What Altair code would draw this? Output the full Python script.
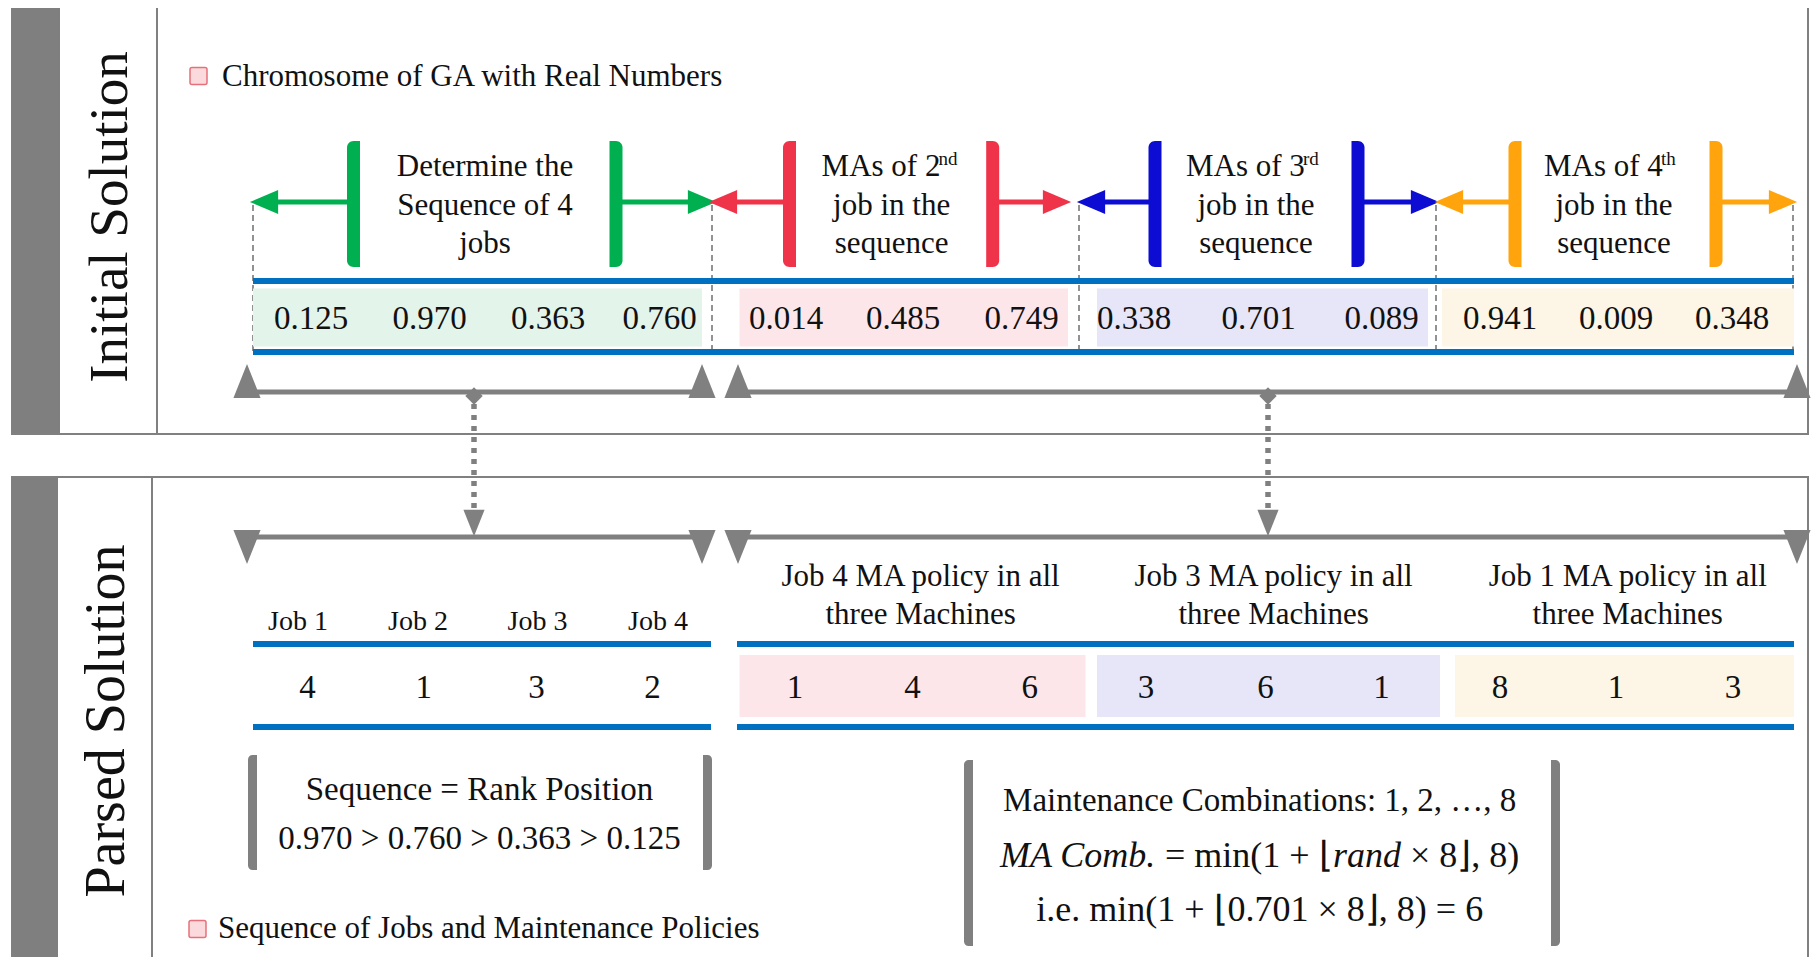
import altair as alt
import pandas as pd

# ---------------- data ----------------
panel_titles = ["Initial Solution", "Parsed Solution"]
legend_texts = ["Chromosome of GA with Real Numbers",
                "Sequence of Jobs and Maintenance Policies"]
chromosome = [0.125, 0.970, 0.363, 0.760,
              0.014, 0.485, 0.749,
              0.338, 0.701, 0.089,
              0.941, 0.009, 0.348]
segment_first_lines = ["Determine the", "MAs of 2", "MAs of 3", "MAs of 4"]
segment_sup = ["", "nd", "rd", "th"]
segment_other_lines = [["Sequence of 4", "jobs"],
                       ["job in the", "sequence"],
                       ["job in the", "sequence"],
                       ["job in the", "sequence"]]
job_labels = ["Job 1", "Job 2", "Job 3", "Job 4"]
job_sequence = [4, 1, 3, 2]
ma_policies = [1, 4, 6, 3, 6, 1, 8, 1, 3]
ma_headers = [["Job 4 MA policy in all", "three Machines"],
              ["Job 3 MA policy in all", "three Machines"],
              ["Job 1 MA policy in all", "three Machines"]]
rank_lines = ["Sequence = Rank Position", "0.970 > 0.760 > 0.363 > 0.125"]
maint_line1 = "Maintenance Combinations: 1, 2, \u2026, 8"
maint_line2 = [("MA Comb.", True), ("= min(1 + \u230a", False), ("rand", True), ("\u00d7 8\u230b, 8)", False)]
maint_line3 = "i.e. min(1 + \u230a0.701 \u00d7 8\u230b, 8) = 6"

# ---------------- styles ----------------
seg_colors = ["#00b050", "#ef3349", "#0c0cd2", "#ffa40c"]
cell_fills = ["#e3f4ea", "#fde6e9", "#e6e6f8", "#fdf6e6"]
GRAY = "#808080"
DARK = "#7f7f7f"
BLUE = "#0070c0"
INK = "#111111"
FONT = "Liberation Serif"
TRI_UP = "M0,-1L0.8,1L-0.8,1Z"
TRI_DOWN = "M0,1L0.8,-1L-0.8,-1Z"
TRI_LEFT = "M-1,0L1,-0.85L1,0.85Z"
TRI_RIGHT = "M1,0L-1,-0.85L-1,0.85Z"

# ---------------- layout (pixel space) ----------------
W, H = 1804, 949
XS = alt.Scale(domain=[8, 8 + W], nice=False, zero=False)
YS = alt.Scale(domain=[8, 8 + H], nice=False, zero=False, reverse=True)

bar_L = [353.5, 789.5, 1155, 1515]
bar_R = [616, 992.7, 1358, 1716]
tip_L = [255, 714, 1082, 1440]
tip_R = [711, 1066, 1434, 1792]
seg_text_cx = [485, 891.6, 1256, 1614]
seg_text_y = [167, 205.5, 244]
dash_x = [253, 712, 1079, 1436, 1793]
top_cells = [(253, 702), (739.5, 1068), (1097, 1428), (1442, 1794)]
top_val_x = [311, 429.5, 548, 659.5, 786, 903, 1021.7, 1134, 1258.5, 1381.6, 1500, 1616, 1732]
bot_cells = [(739.5, 1085.5), (1097, 1440), (1455, 1794)]
bot_val_x = [795, 912.6, 1029.8, 1146, 1265.5, 1381.6, 1500, 1616, 1733]
job_x = [298, 418, 537.5, 658]
seq_x = [307.6, 423.8, 536.4, 652.5]
head_cx = [920.6, 1273.6, 1627.7]
brk_segs = [(238, 711), (728, 1805)]
brk_tri_x = [247, 702, 738, 1797]
brk_mid_x = [474, 1268]


def X():
    return alt.X("x:Q", scale=XS, axis=None)


def Y():
    return alt.Y("y:Q", scale=YS, axis=None)


def rects(rows, **mark):
    df = pd.DataFrame(rows, columns=["x", "x2", "y", "y2", "c"])
    return alt.Chart(df).mark_rect(**mark).encode(
        x=X(), x2="x2:Q", y=Y(), y2="y2:Q", color=alt.Color("c:N", scale=None))


def rules(rows, **mark):
    df = pd.DataFrame(rows, columns=["x", "x2", "y", "y2", "c", "w"])
    return alt.Chart(df).mark_rule(**mark).encode(
        x=X(), x2="x2:Q", y=Y(), y2="y2:Q", color=alt.Color("c:N", scale=None),
        strokeWidth=alt.StrokeWidth("w:Q", scale=None))


def points(rows):
    df = pd.DataFrame(rows, columns=["x", "y", "shape", "s", "c"])
    return alt.Chart(df).mark_point(filled=True, opacity=1, strokeWidth=0).encode(
        x=X(), y=Y(), shape=alt.Shape("shape:N", scale=None),
        size=alt.Size("s:Q", scale=None), color=alt.Color("c:N", scale=None))


def texts(rows, **mark):
    df = pd.DataFrame(rows, columns=["x", "y", "t", "fs"])
    return alt.Chart(df).mark_text(font=FONT, baseline="middle", color=INK, **mark).encode(
        x=X(), y=Y(), text="t:N", size=alt.Size("fs:Q", scale=None))


layers = []

# panels
layers.append(rects([(12, 60, 3, 434, DARK), (12, 58, 477, 975, DARK)]))
layers.append(alt.Chart(pd.DataFrame([(12, 1808, 3, 434), (12, 1808, 477, 975)],
                                     columns=["x", "x2", "y", "y2"]))
              .mark_rect(fillOpacity=0, stroke=GRAY, strokeWidth=2)
              .encode(x=X(), x2="x2:Q", y=Y(), y2="y2:Q"))
layers.append(rules([(157, 157, 3, 434, GRAY, 2), (152, 152, 477, 975, GRAY, 2)]))
layers.append(texts([(110, 217, panel_titles[0], 55), (107, 721, panel_titles[1], 56)],
                    angle=270, align="center"))

# legend markers + texts
layers.append(rects([(190, 207, 67.5, 84.5, "#fadadd"), (189, 206, 920.5, 937.5, "#fadadd")],
                    stroke="#e8707a", strokeWidth=1.5, cornerRadius=2))
layers.append(texts([(222, 76.6, legend_texts[0], 31), (218, 929, legend_texts[1], 31)], align="left"))

# dashed guide lines
layers.append(rules([(x, x, 205, 352, "#6f6f6f", 1.5) for x in dash_x], strokeDash=[6, 4]))

# top cells
layers.append(rects([(a, b, 288.5, 346.5, cell_fills[i]) for i, (a, b) in enumerate(top_cells)]))

# blue lines
blue = [(253, 1794, 281, 281, BLUE, 6), (253, 1794, 352, 352, BLUE, 6)]
for a, b in [(253, 711), (737, 1794)]:
    blue += [(a, b, 644, 644, BLUE, 6), (a, b, 727, 727, BLUE, 6)]
layers.append(rules(blue))

# coloured brackets with arrows
layers.append(rects([(L - 6.5, L + 6.5, 141, 267, seg_colors[i]) for i, L in enumerate(bar_L)],
                    cornerRadiusTopLeft=9, cornerRadiusBottomLeft=9))
layers.append(rects([(R - 6.5, R + 6.5, 141, 267, seg_colors[i]) for i, R in enumerate(bar_R)],
                    cornerRadiusTopRight=9, cornerRadiusBottomRight=9))
arrow_rules, arrow_heads = [], []
for i in range(4):
    arrow_rules.append((bar_L[i], tip_L[i] + 12, 202, 202, seg_colors[i], 5))
    arrow_rules.append((bar_R[i], tip_R[i] - 12, 202, 202, seg_colors[i], 5))
    arrow_heads.append((tip_L[i] + 9, 202, TRI_LEFT, 800, seg_colors[i]))
    arrow_heads.append((tip_R[i] - 9, 202, TRI_RIGHT, 800, seg_colors[i]))
layers.append(rules(arrow_rules))
layers.append(points(arrow_heads))

# bracket texts
seg_rows = []
seg_left, seg_sups = [], []
for i in range(4):
    if i == 0:
        seg_rows.append((seg_text_cx[i], seg_text_y[0], segment_first_lines[i], 31))
    else:
        start = seg_text_cx[i] - 70
        seg_left.append((start, seg_text_y[0], segment_first_lines[i], 31))
        seg_sups.append((start + 117, seg_text_y[0] - 8, segment_sup[i], 19))
    for j, line in enumerate(segment_other_lines[i]):
        seg_rows.append((seg_text_cx[i], seg_text_y[j + 1], line, 31))
layers.append(texts(seg_rows, align="center"))
layers.append(texts(seg_left + seg_sups, align="left"))

# chromosome values
layers.append(texts([(top_val_x[i], 319, f"{v:.3f}", 33) for i, v in enumerate(chromosome)],
                    align="center"))

# grey brackets (top panel and bottom panel) with dotted arrows
gl = []
for a, b in brk_segs:
    gl.append((a, b, 392, 392, GRAY, 5))
    gl.append((a, b, 537, 537, GRAY, 5))
layers.append(rules(gl))
tri = [(x, 381, TRI_UP, 1150, GRAY) for x in brk_tri_x]
tri += [(x, 547, TRI_DOWN, 1150, GRAY) for x in brk_tri_x]
tri += [(x, 396, "diamond", 300, GRAY) for x in brk_mid_x]
tri += [(x, 523, TRI_DOWN, 700, GRAY) for x in brk_mid_x]
layers.append(points(tri))
layers.append(rules([(x, x, 404, 515, GRAY, 5.5) for x in brk_mid_x], strokeDash=[5, 6]))

# bottom cells and values
layers.append(rects([(a, b, 655, 717, cell_fills[i + 1]) for i, (a, b) in enumerate(bot_cells)]))
bottom_txt = [(job_x[i], 622, lab, 28) for i, lab in enumerate(job_labels)]
bottom_txt += [(seq_x[i], 688, str(v), 33) for i, v in enumerate(job_sequence)]
bottom_txt += [(bot_val_x[i], 688, str(v), 33) for i, v in enumerate(ma_policies)]
for i, (l1, l2) in enumerate(ma_headers):
    bottom_txt += [(head_cx[i], 577, l1, 31), (head_cx[i], 615, l2, 31)]
bottom_txt += [(479.5, 789.5, rank_lines[0], 33), (479.5, 839.4, rank_lines[1], 33)]
bottom_txt += [(1259.7, 801, maint_line1, 33), (1259.7, 910, maint_line3, 36)]
layers.append(texts(bottom_txt, align="center"))

# parenthesis boxes
layers.append(rects([(248, 257, 755, 870, GRAY), (964, 973, 760, 946, GRAY)],
                    cornerRadiusTopLeft=10, cornerRadiusBottomLeft=10))
layers.append(rects([(703, 712, 755, 870, GRAY), (1551, 1560, 760, 946, GRAY)],
                    cornerRadiusTopRight=10, cornerRadiusBottomRight=10))

# formula line with italic parts
seg_x = [1000, 1165, 1333, 1410]
normal_parts = [(seg_x[i], 855.6, t, 36) for i, (t, it) in enumerate(maint_line2) if not it]
italic_parts = [(seg_x[i], 855.6, t, 36) for i, (t, it) in enumerate(maint_line2) if it]
layers.append(texts(normal_parts, align="left"))
layers.append(texts(italic_parts, align="left", fontStyle="italic"))

chart = alt.layer(*layers).properties(
    width=W, height=H, padding=0,
    autosize=alt.AutoSizeParams(type="none"),
).configure_view(stroke=None)

chart.save("out.html", embed_options={"renderer": "svg", "actions": False})
